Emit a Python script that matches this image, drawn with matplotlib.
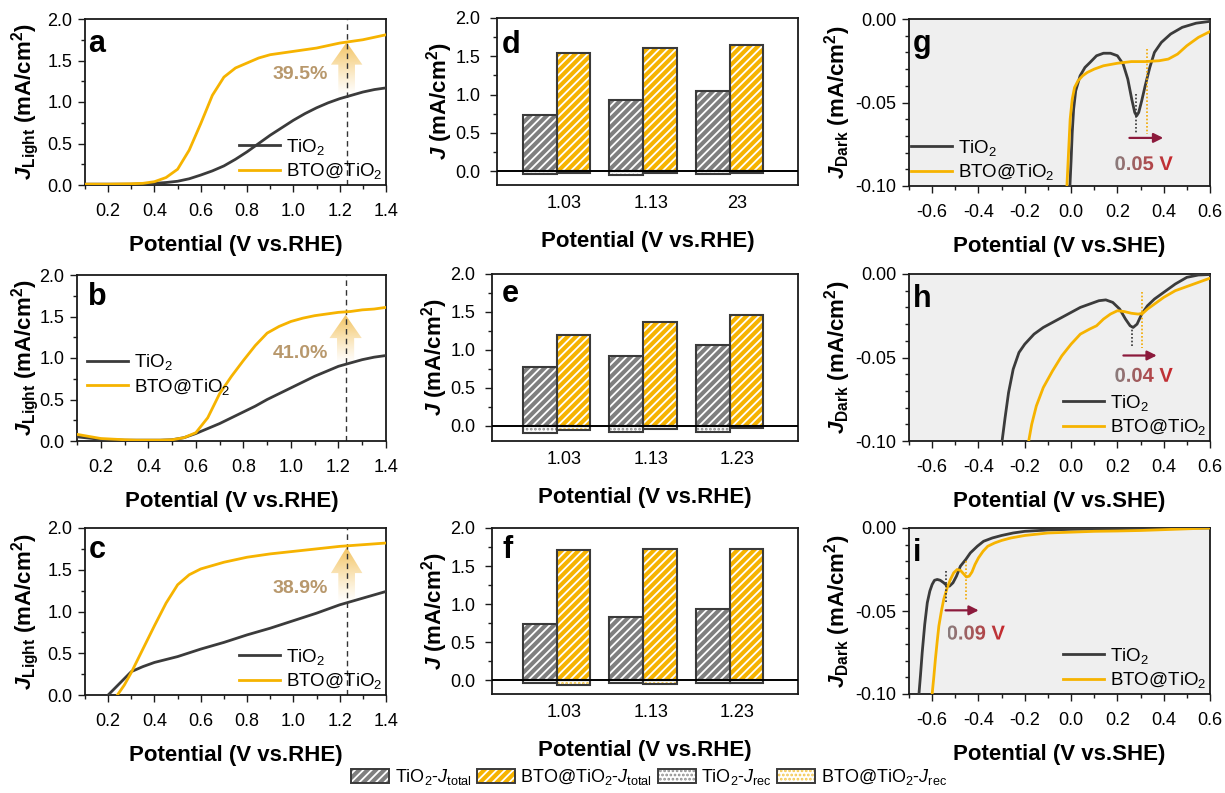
import numpy as np
import matplotlib
matplotlib.use("Agg")
import matplotlib.pyplot as plt
from matplotlib.patches import Polygon, Patch
from matplotlib.textpath import TextPath
from matplotlib.font_manager import FontProperties
from matplotlib.transforms import Affine2D, ScaledTranslation
from matplotlib.ticker import MultipleLocator, FormatStrFormatter
from matplotlib.legend_handler import HandlerTuple
from matplotlib.colors import to_rgb

plt.rcParams.update({
    "font.family": "Liberation Sans",
    "mathtext.fontset": "custom",
    "mathtext.rm": "Liberation Sans",
    "mathtext.it": "Liberation Sans:italic",
    "mathtext.bf": "Liberation Sans:bold",
    "mathtext.bfit": "Liberation Sans:bold:italic",
    "axes.unicode_minus": False,
    "hatch.linewidth": 1.3,
})

# ---------------- data ----------------
# panel a
a_x = [0.10, 0.20, 0.30, 0.35, 0.40, 0.45, 0.50, 0.55, 0.60, 0.65, 0.70, 0.75, 0.80,
       0.85, 0.90, 0.95, 1.00, 1.05, 1.10, 1.15, 1.20, 1.25, 1.30, 1.35, 1.40]
a_tio2 = [0.01, 0.01, 0.01, 0.015, 0.02, 0.03, 0.045, 0.075, 0.12, 0.17, 0.23, 0.31, 0.40,
          0.50, 0.60, 0.69, 0.78, 0.86, 0.93, 0.99, 1.04, 1.08, 1.12, 1.15, 1.17]
a_bto = [0.01, 0.01, 0.015, 0.02, 0.04, 0.09, 0.19, 0.42, 0.74, 1.08, 1.30, 1.41, 1.47,
         1.53, 1.57, 1.59, 1.61, 1.63, 1.65, 1.68, 1.71, 1.73, 1.75, 1.78, 1.81]
# panel b
b_x = a_x
b_tio2 = [0.05, 0.02, 0.01, 0.01, 0.01, 0.01, 0.015, 0.04, 0.09, 0.15, 0.21, 0.28, 0.35,
          0.42, 0.50, 0.57, 0.64, 0.71, 0.78, 0.84, 0.90, 0.94, 0.98, 1.01, 1.03]
b_bto = [0.08, 0.03, 0.015, 0.01, 0.01, 0.01, 0.015, 0.04, 0.10, 0.28, 0.57, 0.78, 0.97,
         1.15, 1.30, 1.38, 1.44, 1.48, 1.51, 1.53, 1.55, 1.56, 1.58, 1.59, 1.61]
# panel c
c_tio2_x = [0.20, 0.25, 0.30, 0.35, 0.40, 0.50, 0.60, 0.70, 0.80, 0.90, 1.00, 1.10, 1.20, 1.30, 1.40]
c_tio2 = [0.00, 0.14, 0.28, 0.34, 0.39, 0.46, 0.55, 0.63, 0.72, 0.80, 0.89, 0.98, 1.08, 1.16, 1.24]
c_bto_x = [0.24, 0.27, 0.30, 0.35, 0.40, 0.45, 0.50, 0.55, 0.60, 0.70, 0.80, 0.90, 1.00,
           1.10, 1.20, 1.30, 1.40]
c_bto = [0.00, 0.12, 0.27, 0.55, 0.83, 1.10, 1.32, 1.44, 1.51, 1.59, 1.65, 1.69, 1.72,
         1.75, 1.78, 1.80, 1.82]
pct_labels = ["39.5%", "41.0%", "38.9%"]

# bar panels
bar_groups = ["1.03", "1.13", "1.23"]
d_labels = ["1.03", "1.13", "23"]
d_tio2_total = [0.74, 0.93, 1.05]
d_bto_total = [1.54, 1.61, 1.65]
d_tio2_rec = [-0.035, -0.055, -0.035]
d_bto_rec = [-0.025, -0.025, -0.018]
e_tio2_total = [0.77, 0.92, 1.06]
e_bto_total = [1.19, 1.37, 1.46]
e_tio2_rec = [-0.09, -0.085, -0.08]
e_bto_rec = [-0.06, -0.045, -0.035]
f_tio2_total = [0.74, 0.83, 0.93]
f_bto_total = [1.71, 1.72, 1.73]
f_tio2_rec = [-0.04, -0.04, -0.04]
f_bto_rec = [-0.06, -0.05, -0.03]

# panel g
g_tio2_x = [-0.005, 0.000, 0.005, 0.011, 0.020, 0.039, 0.060, 0.082, 0.110, 0.140, 0.170, 0.200,
            0.225, 0.245, 0.262, 0.275, 0.283, 0.292, 0.305, 0.320, 0.340, 0.360, 0.390, 0.430,
            0.480, 0.540, 0.600]
g_tio2 = [-0.100, -0.085, -0.068, -0.054, -0.043, -0.034, -0.029, -0.026, -0.022, -0.0205, -0.0205,
          -0.022, -0.027, -0.036, -0.048, -0.056, -0.058, -0.056, -0.049, -0.040, -0.029, -0.020,
          -0.014, -0.009, -0.005, -0.0025, -0.0014]
g_bto_x = [-0.018, -0.011, -0.004, 0.005, 0.015, 0.030, 0.050, 0.070, 0.100, 0.140, 0.200, 0.260,
           0.320, 0.380, 0.420, 0.460, 0.500, 0.550, 0.600]
g_bto = [-0.100, -0.080, -0.060, -0.048, -0.041, -0.037, -0.034, -0.032, -0.030, -0.028, -0.0265,
         -0.0255, -0.0255, -0.025, -0.024, -0.021, -0.016, -0.011, -0.0075]
# panel h
h_tio2_x = [-0.298, -0.285, -0.270, -0.250, -0.225, -0.200, -0.160, -0.120, -0.080, -0.040,
            0.000, 0.040, 0.080, 0.120, 0.150, 0.180, 0.210, 0.235, 0.255, 0.268,
            0.285, 0.305, 0.330, 0.360, 0.400, 0.450, 0.500, 0.550, 0.600]
h_tio2 = [-0.100, -0.086, -0.071, -0.057, -0.047, -0.042, -0.036, -0.032, -0.029, -0.026,
          -0.023, -0.020, -0.018, -0.016, -0.0155, -0.017, -0.021, -0.027, -0.031, -0.032,
          -0.030, -0.024, -0.019, -0.015, -0.011, -0.006, -0.002, -0.0006, -0.0003]
h_bto_x = [-0.183, -0.170, -0.150, -0.120, -0.080, -0.040, 0.000, 0.040, 0.080, 0.110,
           0.140, 0.170, 0.200, 0.230, 0.260, 0.290, 0.310, 0.330, 0.360, 0.400,
           0.450, 0.500, 0.550, 0.600]
h_bto = [-0.100, -0.090, -0.079, -0.068, -0.058, -0.049, -0.042, -0.036, -0.033, -0.031,
         -0.027, -0.024, -0.022, -0.0225, -0.0235, -0.024, -0.0235, -0.021, -0.018, -0.014,
         -0.010, -0.0075, -0.005, -0.0025]
# panel i
i_tio2_x = [-0.657, -0.650, -0.643, -0.632, -0.621, -0.610, -0.600, -0.590, -0.578, -0.565,
            -0.550, -0.538, -0.525, -0.510, -0.495, -0.478, -0.455, -0.435, -0.405, -0.378,
            -0.340, -0.300, -0.250, -0.200, -0.100, 0.000, 0.200, 0.400, 0.600]
i_tio2 = [-0.100, -0.088, -0.075, -0.058, -0.045, -0.038, -0.034, -0.0315, -0.031, -0.0315,
          -0.033, -0.0345, -0.035, -0.033, -0.029, -0.023, -0.019, -0.015, -0.011, -0.008,
          -0.006, -0.0045, -0.003, -0.002, -0.0012, -0.0008, -0.0004, -0.0001, 0.000]
i_bto_x = [-0.600, -0.593, -0.586, -0.578, -0.571, -0.560, -0.550, -0.535, -0.521, -0.507,
           -0.492, -0.478, -0.465, -0.452, -0.440, -0.428, -0.415, -0.400, -0.380, -0.360,
           -0.330, -0.300, -0.260, -0.200, -0.100, 0.000, 0.100, 0.200, 0.300, 0.400,
           0.500, 0.600]
i_bto = [-0.100, -0.090, -0.079, -0.068, -0.059, -0.050, -0.043, -0.036, -0.031, -0.027,
         -0.025, -0.0255, -0.0275, -0.0295, -0.029, -0.0265, -0.022, -0.018, -0.014, -0.011,
         -0.009, -0.0075, -0.006, -0.0045, -0.003, -0.0025, -0.002, -0.0018, -0.0015, -0.001,
         -0.0005, 0.000]
shift_labels = ["0.05 V", "0.04 V", "0.09 V"]
# peak positions (V vs SHE) marked with dotted lines: (TiO2, BTO@TiO2)
g_peaks = (0.280, 0.330)
h_peaks = (0.262, 0.305)
i_peaks = (-0.540, -0.452)

# ---------------- style ----------------
DARK = "#3b3b3b"
YEL = "#f6b300"
GRAY_BAR = "#7f7f7f"
EDGE = "#3a3a3a"
ARROWC = "#8c1a3c"

W, H = 1225, 793
fig = plt.figure(figsize=(W / 100, H / 100), dpi=100)


def add_ax(l, t, r, b):
    return fig.add_axes([l / W, 1 - b / H, (r - l) / W, (b - t) / H])


def style(ax, xmaj, xmin, ymaj, ymin, xfmt, yfmt, xpad=7, ypad=4):
    for sp in ax.spines.values():
        sp.set_linewidth(1.3)
        sp.set_color("#1a1a1a")
    ax.tick_params(which="both", direction="out", top=False, right=False,
                   width=1.0, labelsize=13, color="#1a1a1a")
    ax.tick_params(which="major", length=5)
    ax.tick_params(which="minor", length=3)
    ax.tick_params(axis="x", pad=xpad)
    ax.tick_params(axis="y", pad=ypad)
    if xmaj:
        ax.xaxis.set_major_locator(MultipleLocator(xmaj))
        ax.xaxis.set_minor_locator(MultipleLocator(xmin))
        ax.xaxis.set_major_formatter(FormatStrFormatter(xfmt))
    ax.yaxis.set_major_locator(MultipleLocator(ymaj))
    ax.yaxis.set_minor_locator(MultipleLocator(ymin))
    ax.yaxis.set_major_formatter(FormatStrFormatter(yfmt))


def letter(ax, s, x, y):
    ax.text(x, y, s, transform=ax.transAxes, fontsize=22, fontweight="bold",
            ha="left", va="baseline", zorder=10)


def gradient_arrow(ax, x, y0, yb, y1, sw, hw, color):
    verts = [(x - sw, y0), (x + sw, y0), (x + sw, yb), (x + hw, yb), (x, y1),
             (x - hw, yb), (x - sw, yb)]
    poly = Polygon(verts, closed=True, transform=ax.transData, fc="none", ec="none")
    rgb = to_rgb(color)
    n = 256
    img = np.zeros((n, 2, 4))
    img[..., :3] = rgb
    img[..., 3] = np.linspace(0.0, 0.95, n)[:, None] ** 1.2
    im = ax.imshow(img, extent=(x - hw, x + hw, y0, y1), origin="lower", aspect="auto",
                   interpolation="bilinear", zorder=1.5)
    im.set_clip_path(poly)


def gradient_text(ax, x, y, s, size, c_left, c_right):
    fp = FontProperties(family="Liberation Sans", weight="bold")
    tp = TextPath((0, 0), s, size=size, prop=fp)
    bb = tp.get_extents()
    cx, cy = (bb.x0 + bb.x1) / 2, (bb.y0 + bb.y1) / 2
    tr = Affine2D().translate(-cx, -cy).scale(fig.dpi / 72.0) + ScaledTranslation(x, y, ax.transData)
    c1, c2 = np.array(to_rgb(c_left)), np.array(to_rgb(c_right))
    t = np.linspace(0, 1, 256)[None, :, None]
    img = np.repeat(c1 + (c2 - c1) * t, 2, axis=0)
    im = ax.imshow(img, extent=(bb.x0, bb.x1, bb.y0, bb.y1), transform=tr, aspect="auto",
                   interpolation="bilinear", zorder=6, origin="lower")
    im.set_clip_path(tp, transform=tr)


ylab_light = r"$\mathbfit{J}_{\mathbf{Light}}$ (mA/cm$^{\mathbf{2}}$)"
ylab_j = r"$\mathbfit{J}$ (mA/cm$^{\mathbf{2}}$)"
ylab_dark = r"$\mathbfit{J}_{\mathbf{Dark}}$ (mA/cm$^{\mathbf{2}}$)"
xlab_rhe = "Potential (V vs.RHE)"
xlab_she = "Potential (V vs.SHE)"
LBL = dict(fontsize=16, fontweight="bold")

# ---------------- panels a-c ----------------
line_panels = [
    ("a", (85, 19, 386, 185), a_x, a_tio2, a_x, a_bto, (1.07, 1.45, 1.72), (1.03, 1.33),
     dict(loc="lower right", bbox_to_anchor=(1.0, 0.0)), (0.012, 0.80), 4.5),
    ("b", (77, 275, 386, 441), b_x, b_tio2, b_x, b_bto, (0.93, 1.24, 1.52), (1.04, 1.06),
     dict(loc="center left", bbox_to_anchor=(0.02, 0.40)), (0.035, 0.82), -1.0),
    ("c", (85, 528, 386, 695), c_tio2_x, c_tio2, c_bto_x, c_bto, (1.10, 1.46, 1.77), (1.03, 1.27),
     dict(loc="lower right", bbox_to_anchor=(1.0, 0.0)), (0.012, 0.82), 4.5),
]
for k, (lt, box, tx, ty, bx, by, arr, ptxt, legkw, lpos, ylp) in enumerate(line_panels):
    ax = add_ax(*box)
    style(ax, 0.2, 0.1, 0.5, 0.25, "%.1f", "%.1f", xpad=8, ypad=4)
    ax.plot(tx, ty, color=DARK, lw=2.0, label="TiO$_2$", zorder=3)
    ax.plot(bx, by, color=YEL, lw=2.0, label="BTO@TiO$_2$", zorder=3)
    ax.axvline(1.23, color="#333333", lw=1.0, ls=(0, (4, 3)), zorder=2)
    gradient_arrow(ax, 1.23, arr[0], arr[1], arr[2], 0.036, 0.068, "#f2bf55")
    ax.text(ptxt[0], ptxt[1], pct_labels[k], fontsize=14, fontweight="bold", color="#b8986c",
            ha="center", va="center", zorder=5)
    ax.set_xlim(0.1, 1.4)
    ax.set_ylim(0, 2.0)
    ax.set_xlabel(xlab_rhe, labelpad=11, **LBL)
    ax.set_ylabel(ylab_light, labelpad=ylp, **LBL)
    ax.legend(frameon=False, fontsize=13.5, handlelength=2.2, handletextpad=0.3,
              labelspacing=0.25, borderpad=0.1, borderaxespad=0.1, **legkw)
    letter(ax, lt, *lpos)

# ---------------- panels d-f ----------------
BW = 0.39
xs = np.arange(1, 4)


def draw_bars(ax, pos, vals, fc, hatch, hcol):
    ax.bar(pos, vals, BW, color=fc, edgecolor=hcol, hatch=hatch, lw=0, zorder=2)
    ax.bar(pos, vals, BW, fill=False, edgecolor=EDGE, lw=1.5, zorder=3)


bar_panels = [
    ("d", (497, 18, 798, 185), d_labels, d_tio2_total, d_bto_total, d_tio2_rec, d_bto_rec,
     (0.31, 3.79), -0.18, (0.017, 0.79)),
    ("e", (492, 274, 798, 441), bar_groups, e_tio2_total, e_bto_total, e_tio2_rec, e_bto_rec,
     (0.254, 3.79), -0.20, (0.033, 0.83)),
    ("f", (492, 528, 798, 694), bar_groups, f_tio2_total, f_bto_total, f_tio2_rec, f_bto_rec,
     (0.254, 3.79), -0.18, (0.033, 0.82)),
]
for lt, box, labels, tt, bt, tr_, br_, xl, ylo, lpos in bar_panels:
    ax = add_ax(*box)
    style(ax, None, None, 0.5, 0.25, None, "%.1f", ypad=7)
    draw_bars(ax, xs - BW / 2, tr_, "white", "....", "#8c8c8c")
    draw_bars(ax, xs + BW / 2, br_, "white", "....", "#f3c64a")
    draw_bars(ax, xs - BW / 2, tt, GRAY_BAR, "////", "white")
    draw_bars(ax, xs + BW / 2, bt, YEL, "////", "white")
    ax.axhline(0, color="black", lw=1.4, zorder=4)
    ax.set_xticks(xs + 0.09)
    ax.set_xticklabels(labels)
    ax.tick_params(axis="x", length=0, pad=7)
    ax.set_xlim(*xl)
    ax.set_ylim(ylo, 2.0)
    ax.set_xlabel(xlab_rhe, labelpad=14, **LBL)
    ax.set_ylabel(ylab_j, labelpad=0.5, **LBL)
    letter(ax, lt, *lpos)

# ---------------- panels g-i ----------------
dark_panels = [
    ("g", (909, 19, 1210, 186), g_tio2_x, g_tio2, g_bto_x, g_bto, g_peaks,
     ((-0.045, -0.069), (-0.018, -0.069)), (0.252, 0.398, -0.0712), (0.315, -0.0864),
     dict(loc="lower left", bbox_to_anchor=(-0.005, 0.0)), (0.012, 0.80)),
    ("h", (909, 274, 1210, 441), h_tio2_x, h_tio2, h_bto_x, h_bto, h_peaks,
     ((-0.031, -0.0445), (-0.011, -0.0445)), (0.226, 0.370, -0.0488), (0.315, -0.0604),
     dict(loc="lower right", bbox_to_anchor=(1.0, 0.0)), (0.012, 0.80)),
    ("i", (909, 528, 1210, 694), i_tio2_x, i_tio2, i_bto_x, i_bto, i_peaks,
     ((-0.026, -0.045), (-0.020, -0.044)), (-0.542, -0.399, -0.0496), (-0.41, -0.0630),
     dict(loc="lower right", bbox_to_anchor=(1.0, 0.0)), (0.012, 0.80)),
]
for k, (lt, box, tx, ty, bx, by, pk, dl, arr, vtxt, legkw, lpos) in enumerate(dark_panels):
    ax = add_ax(*box)
    ax.set_facecolor("#efefef")
    style(ax, 0.2, 0.1, 0.05, 0.01, "%.1f", "%.2f", xpad=8, ypad=4)
    ax.plot(tx, ty, color=DARK, lw=2.0, label="TiO$_2$", zorder=3)
    ax.plot(bx, by, color=YEL, lw=2.0, label="BTO@TiO$_2$", zorder=3)
    ax.plot([pk[0], pk[0]], dl[0], color="#333333", lw=1.2, ls=(0, (1, 1.2)), zorder=4)
    ax.plot([pk[1], pk[1]], dl[1], color="#f2a900", lw=1.2, ls=(0, (1, 1.2)), zorder=4)
    ax.annotate("", xy=(arr[1], arr[2]), xytext=(arr[0], arr[2]),
                arrowprops=dict(arrowstyle="-|>", color=ARROWC, lw=1.6, mutation_scale=14,
                                shrinkA=0, shrinkB=0), zorder=5)
    gradient_text(ax, vtxt[0], vtxt[1], shift_labels[k], 14.5, "#8a7d7d", "#c8262b")
    ax.set_xlim(-0.7, 0.6)
    ax.set_ylim(-0.10, 0.0)
    ax.set_xlabel(xlab_she, labelpad=11, **LBL)
    ax.set_ylabel(ylab_dark, labelpad=1.5, **LBL)
    ax.legend(frameon=False, fontsize=13.5, handlelength=2.2, handletextpad=0.3,
              labelspacing=0.25, borderpad=0.1, borderaxespad=0.1, **legkw)
    letter(ax, lt, *lpos)

# ---------------- bottom legend ----------------
handles = [
    (Patch(fc=GRAY_BAR, ec="white", hatch="////", lw=0), Patch(fc="none", ec=EDGE, lw=1.4)),
    (Patch(fc=YEL, ec="white", hatch="////", lw=0), Patch(fc="none", ec=EDGE, lw=1.4)),
    (Patch(fc="white", ec="#8c8c8c", hatch="....", lw=0), Patch(fc="none", ec=EDGE, lw=1.4)),
    (Patch(fc="white", ec="#f3c64a", hatch="....", lw=0), Patch(fc="none", ec=EDGE, lw=1.4)),
]
labels = [r"TiO$_2$-$J_{\mathrm{total}}$", r"BTO@TiO$_2$-$J_{\mathrm{total}}$",
          r"TiO$_2$-$J_{\mathrm{rec}}$", r"BTO@TiO$_2$-$J_{\mathrm{rec}}$"]
fig.legend(handles, labels, handler_map={tuple: HandlerTuple(ndivide=1, pad=0)},
           loc="center", bbox_to_anchor=(649 / W, 1 - 777 / H), ncol=4, frameon=False,
           fontsize=13, handlelength=2.1, handleheight=0.8, handletextpad=0.3,
           columnspacing=0.3)

fig.savefig("out.png", dpi=100)
